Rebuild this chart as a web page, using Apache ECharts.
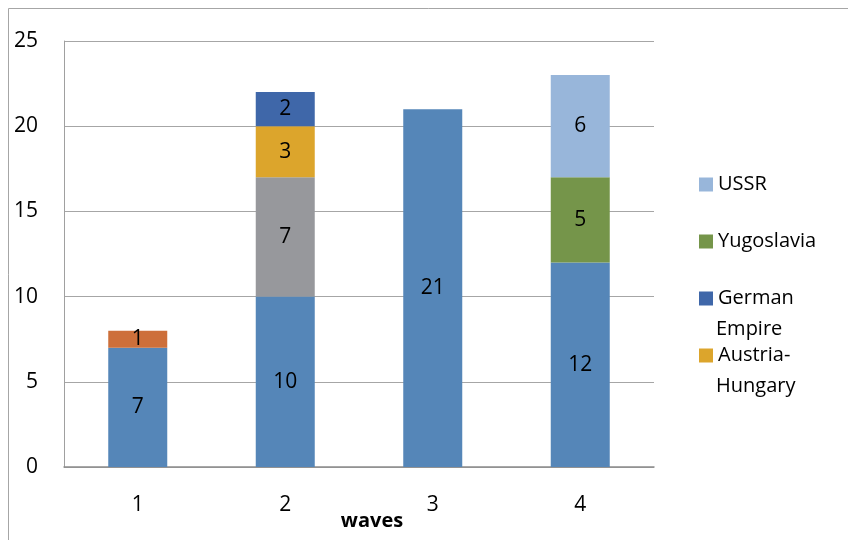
<!DOCTYPE html>
<html>
<head>
<meta charset="utf-8">
<script src="https://cdn.jsdelivr.net/npm/echarts@6/dist/echarts.min.js"></script>
<style>
  html, body { margin: 0; padding: 0; background: #fff; }
  #chart { width: 848px; height: 540px; }
</style>
</head>
<body>
<div id="chart"></div>
<script>
// Waves along the x axis, stacked counts per group
const categories = ['1', '2', '3', '4'];
const groupA = [7, 10, 21, 12];
const groupB = [1, null, null, null];
const groupC = [null, 7, null, null];
const austriaHungary = [null, 3, null, null];
const germanEmpire = [null, 2, null, null];
const yugoslavia = [null, null, null, 5];
const ussr = [null, null, null, 6];
const legendNames = ['USSR', 'Yugoslavia', 'German Empire', 'Austria-Hungary'];
// legend entries wrap onto a second line under the first
const legendFirstLine = { 'German Empire': 'German', 'Austria-Hungary': 'Austria-' };
const legendSecondLine = { 'German Empire': 'Empire', 'Austria-Hungary': 'Hungary' };

const FONT = '"Open Sans", sans-serif';

const seriesDefs = [
  { name: 'Group A', data: groupA, color: '#5586b8' },
  { name: 'Group B', data: groupB, color: '#cd6f3a' },
  { name: 'Group C', data: groupC, color: '#97989c' },
  { name: 'Austria-Hungary', data: austriaHungary, color: '#dca52c' },
  { name: 'German Empire', data: germanEmpire, color: '#3f67a9' },
  { name: 'Yugoslavia', data: yugoslavia, color: '#75954a' },
  { name: 'USSR', data: ussr, color: '#98b6da' }
];

const LEGEND_LEFT = 694;
const LEGEND_TOP = 164;
const LEGEND_ROW = 31;
const LEGEND_GAP = 26;

const wrapTexts = [];
legendNames.forEach((name, i) => {
  if (legendSecondLine[name]) {
    wrapTexts.push({
      type: 'text',
      left: LEGEND_LEFT + 22,
      top: LEGEND_TOP + i * (LEGEND_ROW + LEGEND_GAP) + LEGEND_ROW + 5,
      style: { text: legendSecondLine[name], font: '20px ' + FONT, fill: '#000', lineHeight: LEGEND_ROW, height: LEGEND_ROW, verticalAlign: 'middle' },
      silent: true
    });
  }
});

const chart = echarts.init(document.getElementById('chart'), null, { renderer: 'canvas' });

chart.setOption({
  animation: false,
  backgroundColor: '#fff',
  grid: { left: 64, right: 194, top: 41, bottom: 73, containLabel: false, outerBoundsMode: 'none' },
  graphic: [{
    type: 'rect',
    shape: { x: 8.5, y: 8.5, width: 900, height: 600 },
    style: { fill: 'none', stroke: '#a6a6a6', lineWidth: 1 },
    silent: true
  }].concat(wrapTexts),
  legend: {
    data: legendNames,
    orient: 'vertical',
    left: LEGEND_LEFT,
    top: LEGEND_TOP,
    itemWidth: 14,
    itemHeight: 14,
    itemGap: LEGEND_GAP,
    icon: 'rect',
    formatter: name => legendFirstLine[name] || name,
    textStyle: { fontFamily: FONT, fontSize: 20, color: '#000', lineHeight: LEGEND_ROW }
  },
  xAxis: {
    type: 'category',
    data: categories,
    name: 'waves',
    nameLocation: 'middle',
    nameGap: 44,
    nameMoveOverlap: false,
    nameTextStyle: { fontFamily: FONT, fontSize: 20, fontWeight: 'bold', color: '#000', padding: [0, 0, 0, 26] },
    axisLine: { lineStyle: { color: '#8c8c8c', width: 1.5 } },
    axisTick: { show: false },
    axisLabel: { fontFamily: FONT, fontSize: 21, color: '#000', margin: 28 }
  },
  yAxis: {
    type: 'value',
    min: 0, max: 25, interval: 5,
    axisLine: { show: true, lineStyle: { color: '#a0a0a0', width: 1 } },
    axisTick: { show: false },
    splitLine: { lineStyle: { color: '#a6a6a6', width: 1 } },
    axisLabel: { fontFamily: FONT, fontSize: 21, color: '#000', margin: 26 }
  },
  series: seriesDefs.map(s => ({
    name: s.name,
    type: 'bar',
    stack: 'total',
    barWidth: 59,
    data: s.data,
    itemStyle: { color: s.color },
    label: {
      show: true, position: 'inside',
      fontFamily: FONT, fontSize: 21, color: '#000',
      formatter: p => (p.value == null ? '' : String(p.value))
    }
  }))
});
</script>
</body>
</html>
